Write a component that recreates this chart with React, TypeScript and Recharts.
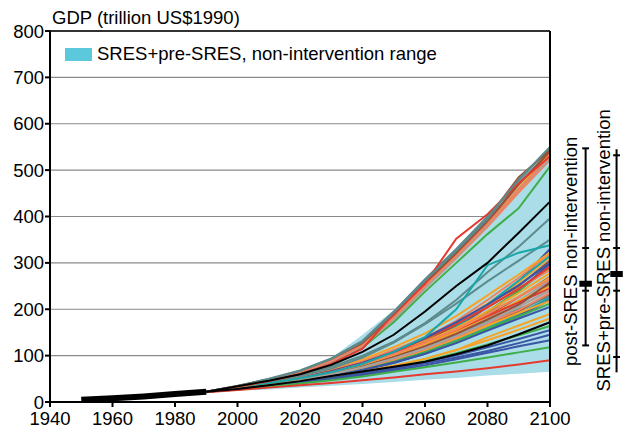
import React from 'react'
import {
  ComposedChart,
  Line,
  Area,
  XAxis,
  YAxis,
  CartesianGrid,
  ReferenceLine,
  ReferenceDot,
} from 'recharts'

const FONT = '"Liberation Sans", Arial, sans-serif'
const FS = 18.5

// scenario years and historical record
const years = [1990, 2000, 2010, 2020, 2030, 2040, 2050, 2060, 2070, 2080, 2090, 2100]
const historyYears = [1950, 1960, 1970, 1980, 1990]
const historyGdp = [5, 8, 12, 17, 22]

// SRES + pre-SRES non-intervention range
const rangeLow = [20, 24, 27, 31, 35, 39, 43, 48, 52, 57, 61, 65]
const rangeHigh = [23, 36, 50, 68, 95, 145, 198, 266, 330, 398, 482, 552]

const red = '#e53a2f'
const orange = '#f7a326'
const brown = '#9a4f32'
const slate = '#5d8b8c'
const green = '#3fae49'
const blue = '#3b55a4'
const teal = '#17a7a8'
const salmon = '#ef8260'
const gray = '#a3a3a3'
const black = '#000000'

// post-SRES scenario paths, GDP in trillion US$1990
const middleScenarios = [
  [22, 30, 40, 51, 64, 80, 100, 125, 160, 205, 260, 330],
  [22, 31, 41, 53, 67, 85, 108, 138, 175, 220, 268, 320],
  [22, 31, 41, 52, 66, 84, 106, 135, 170, 212, 258, 312],
  [22, 30, 39, 50, 63, 80, 102, 130, 165, 205, 250, 305],
  [22, 30, 39, 49, 62, 78, 98, 126, 162, 210, 262, 315],
  [22, 29, 38, 48, 60, 75, 95, 120, 152, 192, 240, 298],
  [22, 30, 39, 50, 63, 79, 99, 124, 156, 195, 240, 290],
  [22, 31, 42, 54, 69, 88, 112, 140, 172, 208, 245, 285],
  [22, 30, 40, 51, 65, 83, 104, 130, 160, 196, 235, 278],
  [22, 29, 38, 48, 60, 76, 96, 122, 152, 186, 226, 270],
  [22, 30, 39, 49, 62, 78, 98, 121, 148, 180, 218, 262],
  [22, 29, 37, 47, 58, 72, 90, 112, 140, 172, 210, 255],
  [22, 30, 39, 50, 63, 80, 101, 125, 152, 184, 218, 250],
  [22, 31, 41, 53, 67, 84, 105, 128, 155, 185, 215, 245],
  [22, 30, 39, 49, 61, 77, 96, 118, 144, 174, 206, 240],
  [22, 29, 38, 47, 58, 72, 90, 111, 136, 165, 196, 232],
  [22, 29, 37, 46, 57, 71, 88, 108, 132, 160, 190, 225],
  [22, 28, 36, 45, 55, 68, 84, 104, 128, 156, 186, 220],
  [22, 30, 38, 48, 59, 73, 91, 112, 137, 165, 192, 218],
  [22, 29, 37, 46, 57, 70, 87, 107, 130, 158, 185, 212],
  [22, 30, 39, 49, 61, 76, 95, 118, 145, 175, 200, 228],
  [22, 30, 38, 48, 60, 74, 92, 114, 140, 170, 198, 235],
  [22, 29, 37, 46, 56, 69, 85, 104, 127, 154, 180, 205],
  [22, 30, 39, 50, 62, 77, 97, 120, 147, 178, 210, 258],
  [22, 31, 40, 51, 64, 81, 102, 127, 156, 190, 228, 268],
  [22, 29, 38, 48, 60, 75, 94, 116, 142, 172, 205, 242],
  [22, 30, 40, 52, 66, 84, 108, 136, 168, 204, 244, 292],
  [22, 31, 41, 52, 66, 84, 108, 138, 172, 210, 252, 300],
  [22, 32, 43, 56, 72, 92, 118, 148, 185, 230, 275, 322],
  [22, 30, 40, 51, 64, 82, 103, 128, 157, 190, 226, 265],
  [22, 32, 44, 58, 76, 100, 130, 170, 220, 280, 335, 396],
  [22, 32, 43, 56, 72, 96, 128, 168, 212, 260, 305, 350],
  [22, 30, 40, 51, 64, 82, 108, 140, 200, 295, 322, 338],
]
const middleColors = [
  blue, salmon, orange, brown, teal, blue, green, salmon, orange, brown, gray,
  blue, orange, red, salmon, brown, teal, blue, orange, green, slate, salmon,
  blue, brown, orange, gray, red, blue, orange, salmon, slate, slate, teal,
]

const lowerScenarios = [
  [22, 28, 35, 43, 53, 64, 77, 93, 112, 140, 165, 190],
  [22, 29, 36, 44, 54, 65, 78, 93, 112, 133, 156, 180],
  [22, 28, 35, 43, 52, 62, 74, 88, 105, 124, 144, 164],
  [22, 28, 35, 43, 52, 62, 73, 86, 101, 118, 136, 155],
  [22, 28, 35, 42, 50, 60, 71, 83, 96, 110, 127, 145],
  [22, 27, 34, 41, 49, 58, 68, 79, 92, 106, 120, 133],
  [22, 27, 33, 40, 47, 55, 65, 75, 85, 96, 107, 118],
  [21, 26, 31, 36, 41, 47, 53, 60, 66, 73, 81, 90],
]
const lowerColors = [orange, orange, green, blue, blue, blue, green, red]

const upperScenarios = [
  [22, 35, 50, 68, 94, 132, 195, 265, 330, 400, 478, 548],
  [22, 34, 48, 65, 90, 127, 188, 258, 325, 395, 485, 543],
  [22, 34, 49, 66, 92, 129, 190, 260, 322, 392, 470, 538],
  [22, 33, 47, 63, 87, 121, 180, 248, 312, 380, 455, 528],
  [22, 33, 46, 62, 86, 119, 177, 245, 310, 378, 452, 522],
  [22, 33, 46, 62, 85, 117, 172, 238, 300, 362, 418, 508],
  [22, 33, 47, 64, 88, 123, 183, 252, 316, 386, 462, 535],
  [22, 34, 48, 65, 89, 125, 186, 255, 320, 388, 470, 540],
  [22, 33, 46, 62, 86, 120, 178, 246, 312, 382, 460, 525],
  [22, 34, 47, 64, 88, 122, 182, 250, 315, 384, 458, 532],
  [22, 33, 45, 60, 82, 115, 190, 255, 352, 405, 472, 530],
  [22, 34, 49, 67, 93, 131, 193, 262, 327, 398, 480, 550],
]
const upperColors = [slate, brown, slate, orange, salmon, green, orange, brown, gray, salmon, red, slate]

// marker (black) scenarios
const markerScenarios = [
  [22, 34, 46, 60, 80, 108, 145, 195, 250, 300, 365, 432],
  [22, 28, 36, 45, 56, 66, 76, 87, 103, 122, 146, 172],
]

// right-hand ranges: ticks and medians
const postSresTicks = [122, 240, 332, 547]
const postSresMedian = 255
const allSresTicks = [97, 240, 332, 532]
const allSresEnds = [64, 545]
const allSresMedian = 276

const xTicks = [1940, 1960, 1980, 2000, 2020, 2040, 2060, 2080, 2100]
const yTicks = [0, 100, 200, 300, 400, 500, 600, 700, 800]

const allScenarios = [...middleScenarios, ...lowerScenarios, ...upperScenarios, ...markerScenarios]
const allColors = [...middleColors, ...lowerColors, ...upperColors, black, black]

const rowYears = [...historyYears.slice(0, -1), ...years]
const data = rowYears.map((year) => {
  const row: Record<string, any> = { year }
  const h = historyYears.indexOf(year)
  if (h >= 0) row.hist = historyGdp[h]
  const s = years.indexOf(year)
  if (s >= 0) {
    row.range = [rangeLow[s], rangeHigh[s]]
    allScenarios.forEach((vals, i) => {
      row[`s${i}`] = vals[s]
    })
  }
  return row
})

const sideLabel = (text: string) => (props: any) => (
  <text
    x={props.cx}
    y={props.cy}
    transform={`rotate(-90 ${props.cx} ${props.cy})`}
    textAnchor="middle"
    dominantBaseline="central"
    fontSize={FS}
    fontFamily={FONT}
    fill="#000"
  >
    {text}
  </text>
)

export default function App() {
  const barA = 2111.4
  const barB = 2121.3
  const tickHalf = 1.1
  const medHalf = 2

  const rangeMarks = (x: number, ends: number[], ticks: number[], median: number, key: string) => [
    <ReferenceLine
      key={`${key}-v`}
      segment={[{ x, y: ends[0] }, { x, y: ends[1] }]}
      stroke="#000"
      strokeWidth={2}
      ifOverflow="visible"
    />,
    ...ticks.map((t) => (
      <ReferenceLine
        key={`${key}-t${t}`}
        segment={[{ x: x - tickHalf, y: t }, { x: x + tickHalf, y: t }]}
        stroke="#000"
        strokeWidth={2}
        ifOverflow="visible"
      />
    )),
    <ReferenceLine
      key={`${key}-m`}
      segment={[{ x: x - medHalf, y: median }, { x: x + medHalf, y: median }]}
      stroke="#000"
      strokeWidth={6}
      ifOverflow="visible"
    />,
  ]

  return (
    <div style={{ position: 'absolute', left: 0, top: 0, width: 623, height: 428, fontFamily: FONT, background: '#fff' }}>
      <div style={{ position: 'absolute', left: 52, top: 7, fontSize: FS, lineHeight: '22px', color: '#000' }}>
        GDP (trillion US$1990)
      </div>
      <ComposedChart
        width={623}
        height={428}
        data={data}
        margin={{ top: 31, right: 73, bottom: 0, left: 0 }}
        style={{ overflow: 'visible' }}
      >
        <CartesianGrid vertical={false} stroke="#8a8a8a" strokeWidth={1.2} />
        <XAxis
          dataKey="year"
          type="number"
          domain={[1940, 2100]}
          ticks={xTicks}
          height={26}
          tickSize={5}
          tickMargin={5}
          axisLine={{ stroke: '#000', strokeWidth: 2 }}
          tickLine={{ stroke: '#000', strokeWidth: 2 }}
          tick={{ fontSize: FS, fill: '#000', fontFamily: FONT }}
          interval={0}
        />
        <YAxis
          domain={[0, 800]}
          ticks={yTicks}
          width={50}
          tickSize={5}
          tickMargin={1}
          axisLine={{ stroke: '#000', strokeWidth: 2 }}
          tickLine={{ stroke: '#000', strokeWidth: 2 }}
          tick={{ fontSize: FS, fill: '#000', fontFamily: FONT }}
          interval={0}
        />
        <Area
          dataKey="range"
          stroke="none"
          fill="#aadde8"
          fillOpacity={1}
          isAnimationActive={false}
          connectNulls={false}
        />
        {allScenarios.map((_, i) => (
          <Line
            key={i}
            dataKey={`s${i}`}
            stroke={allColors[i]}
            strokeWidth={2}
            dot={false}
            activeDot={false}
            isAnimationActive={false}
          />
        ))}
        <Line
          dataKey="hist"
          stroke="#000"
          strokeWidth={6}
          dot={false}
          activeDot={false}
          isAnimationActive={false}
        />
        <ReferenceLine y={800} stroke="#000" strokeWidth={1.5} />
        <ReferenceLine x={2100} stroke="#000" strokeWidth={2} />
        {rangeMarks(barA, [postSresTicks[0], postSresTicks[3]], postSresTicks, postSresMedian, 'a')}
        {rangeMarks(barB, allSresEnds, allSresTicks, allSresMedian, 'b')}
        <ReferenceDot x={2106.7} y={325} ifOverflow="visible" shape={sideLabel('post-SRES non-intervention')} />
        <ReferenceDot x={2117.0} y={327} ifOverflow="visible" shape={sideLabel('SRES+pre-SRES non-intervention')} />
      </ComposedChart>
      <div style={{ position: 'absolute', left: 65, top: 48, width: 27, height: 13, background: '#5bc8db' }} />
      <div style={{ position: 'absolute', left: 97, top: 43, fontSize: FS, lineHeight: '22px', color: '#000' }}>
        SRES+pre-SRES, non-intervention range
      </div>
    </div>
  )
}
